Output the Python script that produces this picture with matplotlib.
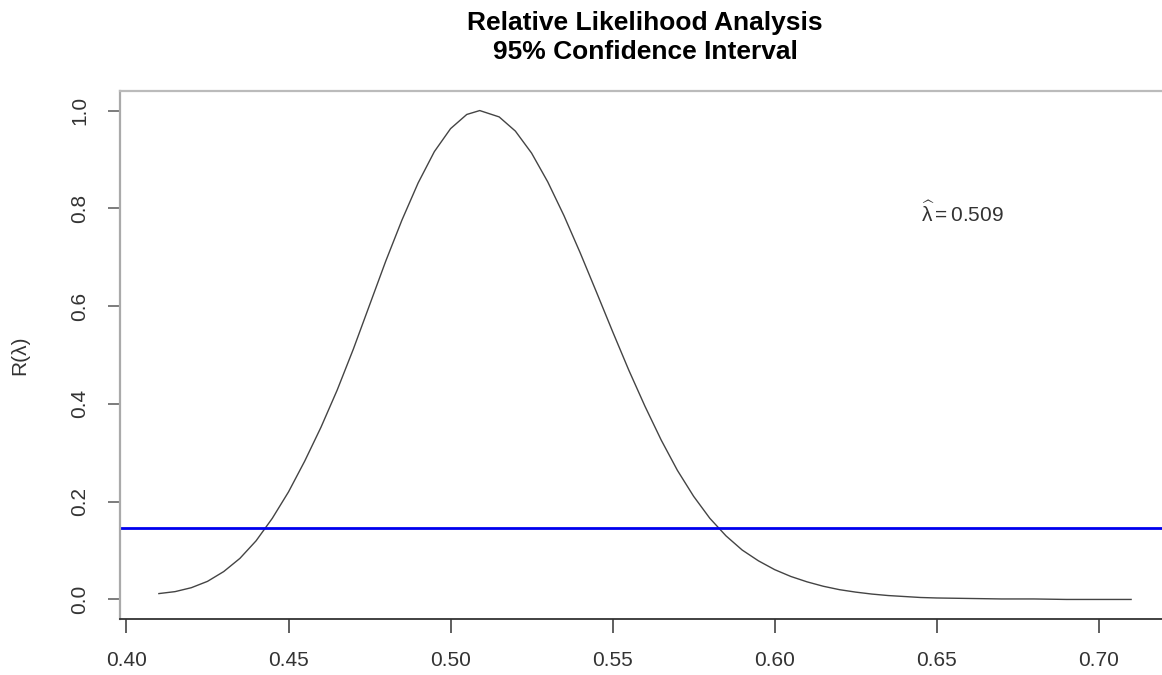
import numpy as np
import matplotlib.pyplot as plt

plt.rcParams['font.family'] = ['Liberation Sans', 'DejaVu Sans']
plt.rcParams['mathtext.fontset'] = 'custom'
plt.rcParams['mathtext.rm'] = 'Liberation Sans'
plt.rcParams['mathtext.it'] = 'Liberation Sans'

# relative likelihood R(lambda) over the grid of lambda values
lam = np.array([0.410, 0.415, 0.420, 0.425, 0.430, 0.435, 0.440, 0.445, 0.450,
                0.455, 0.460, 0.465, 0.470, 0.475, 0.480, 0.485, 0.490, 0.495,
                0.500, 0.505, 0.509, 0.515, 0.520, 0.525, 0.530, 0.535, 0.540,
                0.545, 0.550, 0.555, 0.560, 0.565, 0.570, 0.575, 0.580, 0.585,
                0.590, 0.595, 0.600, 0.605, 0.610, 0.615, 0.620, 0.625, 0.630,
                0.635, 0.640, 0.645, 0.650, 0.660, 0.670, 0.680, 0.690, 0.700,
                0.710])
rel_lik = np.array([0.012, 0.016, 0.024, 0.037, 0.057, 0.084, 0.120, 0.166, 0.220,
                    0.283, 0.352, 0.428, 0.512, 0.602, 0.692, 0.776, 0.852, 0.916,
                    0.963, 0.992, 1.000, 0.987, 0.958, 0.913, 0.854, 0.785, 0.709,
                    0.629, 0.548, 0.469, 0.395, 0.326, 0.264, 0.211, 0.166, 0.130,
                    0.101, 0.079, 0.061, 0.047, 0.036, 0.027, 0.020, 0.015, 0.011,
                    0.008, 0.006, 0.004, 0.003, 0.002, 0.001, 0.001, 0.000, 0.000,
                    0.000])
lam_hat = 0.509
cutoff = 0.147  # exp(-3.84/2), 95% level

x_ticks = [0.40, 0.45, 0.50, 0.55, 0.60, 0.65, 0.70]
y_ticks = [0.0, 0.2, 0.4, 0.6, 0.8, 1.0]

fig = plt.figure(figsize=(11.62, 6.75), dpi=100)
ax = fig.add_axes([120 / 1162, 56 / 675, 1050 / 1162, 528 / 675])

ax.plot(lam, rel_lik, color='#444444', lw=1.0)
ax.axhline(cutoff, color='#0000ee', lw=2.0)

ax.text(0.658, 0.79, r'$\widehat{\lambda} = %.3f$' % lam_hat, fontsize=15,
        color='#333333', ha='center', va='center')

ax.set_xlim(0.398, 0.722)
ax.set_ylim(-0.04, 1.04)
ax.set_xticks(x_ticks)
ax.set_xticklabels(['%.2f' % v for v in x_ticks])
ax.set_yticks(y_ticks)
ax.set_yticklabels(['%.1f' % v for v in y_ticks], rotation=90, va='center')

ax.tick_params(axis='x', length=10, width=1.2, color='#444444', pad=13,
               labelsize=15, labelcolor='#333333')
ax.tick_params(axis='y', length=9, width=1.2, color='#666666', pad=13,
               labelsize=15, labelcolor='#333333')

ax.spines['right'].set_visible(False)
ax.spines['left'].set_color('#aaaaaa')
ax.spines['left'].set_linewidth(1.6)
ax.spines['top'].set_color('#bbbbbb')
ax.spines['top'].set_linewidth(1.6)
ax.spines['bottom'].set_color('#333333')
ax.spines['bottom'].set_linewidth(1.3)

ax.set_ylabel('R(λ)', fontsize=15, color='#333333', labelpad=30)

fig.text(645 / 1162, 1 - 23 / 675, 'Relative Likelihood Analysis', fontsize=19,
         fontweight='bold', ha='center', va='center')
fig.text(645 / 1162, 1 - 52 / 675, '95% Confidence Interval', fontsize=19,
         fontweight='bold', ha='center', va='center')

fig.savefig('out.png', dpi=100)
